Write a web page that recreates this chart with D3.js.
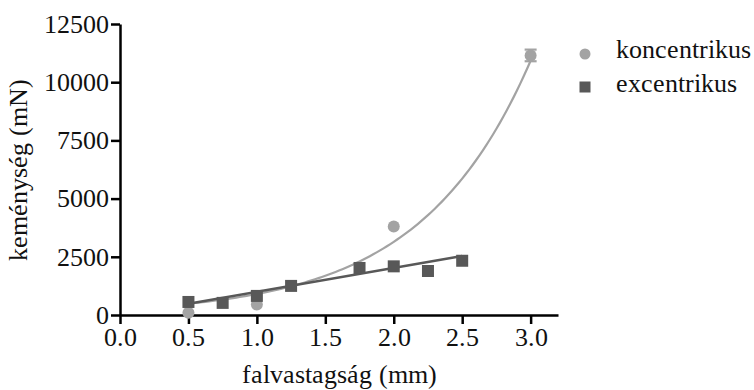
<!DOCTYPE html>
<html>
<head>
<meta charset="utf-8">
<script src="https://cdn.jsdelivr.net/npm/d3@7"></script>
<style>
  @font-face { font-family: "ChartSerif"; src: local("Liberation Serif"), local("LiberationSerif-Regular"), local("Times New Roman"); }
  html, body { margin: 0; padding: 0; background: #fff; font-family: "Liberation Serif", serif; }
  svg { display: block; }
  svg text { font-family: "ChartSerif", "Liberation Serif", serif !important; }
</style>
</head>
<body>
<svg id="chart" width="754" height="390"></svg>
<script>
// ---- data ----
const seriesNames = ["koncentrikus", "excentrikus"];
const konX = [0.5, 1.0, 2.0, 3.0];
const konY = [100, 450, 3800, 11150];
const konErr = [0, 0, 0, 250];
const exX = [0.5, 0.75, 1.0, 1.25, 1.75, 2.0, 2.25, 2.5];
const exY = [560, 520, 820, 1250, 2020, 2090, 1890, 2330];
// fitted curves
const konFit = [260, 1.246];      // y = a * exp(b * x)
const konFitRange = [0.5, 3.0];
const exFit = [-30, 1025];        // y = intercept + slope * x
const exFitRange = [0.5, 2.5];
const xTicks = [0.0, 0.5, 1.0, 1.5, 2.0, 2.5, 3.0];
const yTicks = [0, 2500, 5000, 7500, 10000, 12500];
const xTitle = "falvastagság (mm)";
const yTitle = "keménység (mN)";

// ---- layout ----
const FONT = "Liberation Serif";
const svg = d3.select("#chart");
const x = d3.scaleLinear().domain([0, 3.2]).range([120, 558]);
const y = d3.scaleLinear().domain([0, 12500]).range([315, 24]);
const konColor = "#a3a3a3";
const exColor = "#585858";

// axes
const yAxis = svg.append("g")
  .attr("transform", `translate(${x(0)},0)`)
  .call(d3.axisLeft(y).tickValues(yTicks).tickSize(9).tickSizeOuter(0).tickPadding(2).tickFormat(d3.format("d")));
const xAxis = svg.append("g")
  .attr("transform", `translate(0,${y(0)})`)
  .call(d3.axisBottom(x).tickValues(xTicks).tickSize(9).tickSizeOuter(0).tickPadding(4).tickFormat(d3.format(".1f")));
[xAxis, yAxis].forEach(g => {
  g.attr("font-family", FONT).attr("font-size", 26);
  g.select(".domain").attr("stroke", "#000").attr("stroke-width", 2.5);
  g.selectAll(".tick line").attr("stroke", "#000").attr("stroke-width", 2.5);
  g.selectAll(".tick text").attr("fill", "#111");
});

// titles
svg.append("text")
  .attr("x", (x.range()[0] + x.range()[1]) / 2).attr("y", 383)
  .attr("text-anchor", "middle").attr("font-size", 26).attr("fill", "#111")
  .text(xTitle);
svg.append("text")
  .attr("transform", `translate(27,${(y.range()[0] + y.range()[1]) / 2}) rotate(-90)`)
  .attr("text-anchor", "middle").attr("font-size", 26).attr("fill", "#111")
  .text(yTitle);

// fit curves
const konCurve = d3.range(0, 101).map(i => {
  const xv = konFitRange[0] + (konFitRange[1] - konFitRange[0]) * i / 100;
  return [xv, konFit[0] * Math.exp(konFit[1] * xv)];
});
const line = d3.line().x(d => x(d[0])).y(d => y(d[1]));
svg.append("path").datum(konCurve).attr("d", line)
  .attr("fill", "none").attr("stroke", konColor).attr("stroke-width", 2.2);
const exLine = exFitRange.map(xv => [xv, exFit[0] + exFit[1] * xv]);
svg.append("path").datum(exLine).attr("d", line)
  .attr("fill", "none").attr("stroke", exColor).attr("stroke-width", 2.5);

// koncentrikus points + error bars
const kon = konX.map((v, i) => ({x: v, y: konY[i], e: konErr[i]}));
const eb = svg.append("g").attr("stroke", konColor).attr("stroke-width", 2.2);
kon.filter(d => d.e > 0).forEach(d => {
  eb.append("line").attr("x1", x(d.x)).attr("x2", x(d.x)).attr("y1", y(d.y - d.e)).attr("y2", y(d.y + d.e));
  eb.append("line").attr("x1", x(d.x) - 6).attr("x2", x(d.x) + 6).attr("y1", y(d.y - d.e)).attr("y2", y(d.y - d.e));
  eb.append("line").attr("x1", x(d.x) - 6).attr("x2", x(d.x) + 6).attr("y1", y(d.y + d.e)).attr("y2", y(d.y + d.e));
});
svg.append("g").selectAll("circle").data(kon).join("circle")
  .attr("cx", d => x(d.x)).attr("cy", d => y(d.y)).attr("r", 6).attr("fill", konColor);

// excentrikus points
const ex = exX.map((v, i) => ({x: v, y: exY[i]}));
svg.append("g").selectAll("rect").data(ex).join("rect")
  .attr("x", d => x(d.x) - 6).attr("y", d => y(d.y) - 6)
  .attr("width", 12).attr("height", 12).attr("fill", exColor);

// legend
const lg = svg.append("g").attr("font-size", 26).attr("fill", "#111");
lg.append("circle").attr("cx", 585).attr("cy", 54).attr("r", 5.5).attr("fill", konColor);
lg.append("rect").attr("x", 579.5).attr("y", 81.5).attr("width", 11).attr("height", 11).attr("fill", exColor);
lg.append("text").attr("x", 616).attr("y", 58).text(seriesNames[0]);
lg.append("text").attr("x", 616).attr("y", 92).text(seriesNames[1]);

// make sure the serif face is applied once fonts are ready
if (document.fonts && document.fonts.load) {
  document.fonts.load('26px "ChartSerif"').then(() => {
    svg.selectAll("text").attr("font-family", FONT).style("font-family", '"ChartSerif", "Liberation Serif", serif');
  });
}
</script>
</body>
</html>
